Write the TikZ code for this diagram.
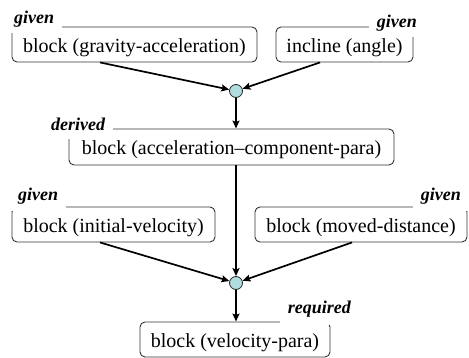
\documentclass[tikz,border=0pt]{standalone}
\usepackage{fontspec}
\setmainfont{Liberation Serif}
\usetikzlibrary{arrows.meta}
\definecolor{joinfill}{RGB}{178,221,222}
\tikzset{
  blockbox/.style={draw=black!80, line width=0.9pt, rounded corners=5pt,
    inner xsep=0pt, inner ysep=0pt, minimum height=35pt,
    text height=17pt, text depth=1pt,
    font=\fontsize{20}{24}\selectfont},
  rolelabel/.style={fill=white, inner xsep=8pt, inner ysep=0pt,
    text height=14pt, text depth=#1,
    font=\fontsize{18}{22}\selectfont\bfseries\itshape},
  rolelabel/.default=9pt,
  junction/.style={circle, draw=black!85, line width=0.8pt, fill=joinfill,
    minimum size=13pt, inner sep=0pt},
  flow/.style={line width=1.7pt, -{Stealth[length=8pt,width=7pt,inset=1.5pt]}}
}
\begin{document}
\begin{tikzpicture}[x=1pt, y=-1pt]
\useasboundingbox (0,0) rectangle (469,358);

% blocks
\node[blockbox, minimum width=245pt] (grav) at (134.5,44.5) {block (gravity-acceleration)};
\node[blockbox, minimum width=137pt] (incl) at (344.5,44.5) {incline (angle)};
\node[blockbox, minimum width=325pt, minimum height=36pt] (comp) at (231.5,147) {block (acceleration--component-para)};
\node[blockbox, minimum width=203pt] (vinit) at (113.5,224.5) {block (initial-velocity)};
\node[blockbox, minimum width=212pt] (dist) at (361,224.5) {block (moved-distance)};
\node[blockbox, minimum width=190pt] (vpara) at (235,339.5) {block (velocity-para)};

% role labels sitting on the box corners
\node[rolelabel=9pt, anchor=base west] (lgrav) at (6,24) {given};
\node[rolelabel=9pt, anchor=base east] (lincl) at (425,28) {given};
\node[rolelabel=8pt, anchor=base west] (lcomp) at (43,131) {derived};
\node[rolelabel=10pt, anchor=base west] (lvinit) at (10,201) {given};
\node[rolelabel=10pt, anchor=base east] (ldist) at (469,201) {given};
\node[rolelabel=11pt, anchor=base east] (lvpara) at (359,314) {required};

% junctions
\node[junction] (j1) at (236,91) {};
\node[junction] (j2) at (236,283) {};

% connectors
\draw[flow] ([xshift=-34.5pt]grav.south) -- (j1);
\draw[flow] ([xshift=-24.5pt]incl.south) -- (j1);
\draw[flow] (j1) -- (j1 |- comp.north);
\draw[flow] (j2 |- comp.south) -- (j2);
\draw[flow] ([xshift=-13.5pt]vinit.south) -- (j2);
\draw[flow] ([xshift=-9pt]dist.south) -- (j2);
\draw[flow] (j2) -- (j2 |- vpara.north);
\end{tikzpicture}
\end{document}
